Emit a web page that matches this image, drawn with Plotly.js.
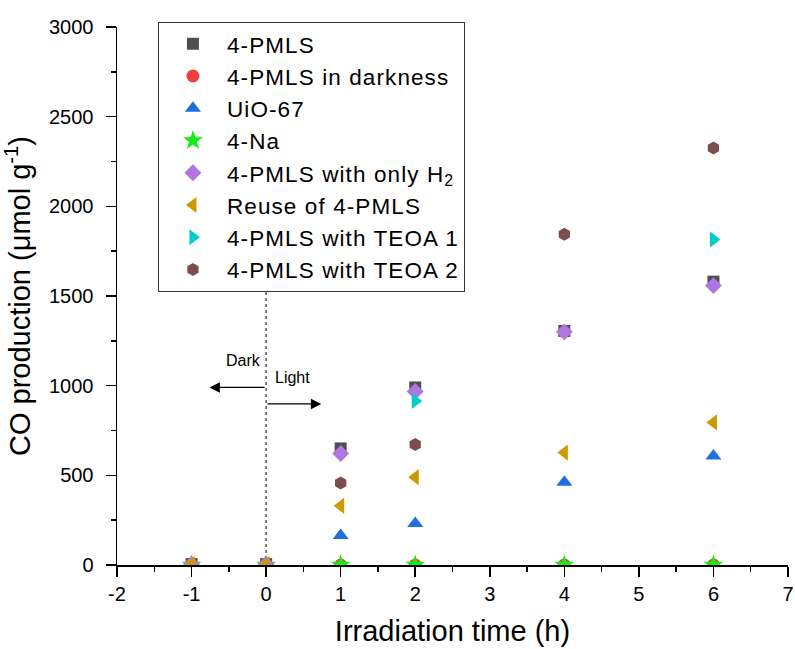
<!DOCTYPE html>
<html>
<head>
<meta charset="utf-8">
<script src="https://cdn.plot.ly/plotly-3.0.1.min.js"></script>
<style>
  html, body { margin: 0; padding: 0; background: #fff; }
  #chart { width: 795px; height: 649px; }
  .legendtext { letter-spacing: 1.1px; }
</style>
</head>
<body>
<div id="chart"></div>
<script>
// ---- data ----
const times = [-1, 0, 1, 2, 4, 6];
const pmls = [5, 5, 650, 990, 1305, 1580];
const pmlsDark = [0, 0, 0, 0, 0, 0];
const uio67 = [0, 0, 165, 232, 462, 608];
const na4 = [0, 0, 0, 0, 0, 0];
const onlyH2 = [5, 5, 622, 968, 1300, 1558];
const reuse = [5, 5, 330, 490, 627, 795];
const teoa1Times = [2, 6];
const teoa1 = [915, 1815];
const teoa2Times = [1, 2, 4, 6];
const teoa2 = [457, 672, 1845, 2325];

const seriesNames = ['4-PMLS', '4-PMLS in darkness', 'UiO-67', '4-Na',
  '4-PMLS with only H<sub>2</sub>', 'Reuse of 4-PMLS', '4-PMLS with TEOA 1', '4-PMLS with TEOA 2'];

const xTickVals = [-2, -1, 0, 1, 2, 3, 4, 5, 6, 7];
const xTickText = ['-2', '-1', '0', '1', '2', '3', '4', '5', '6', '7'];
const yTickVals = [0, 500, 1000, 1500, 2000, 2500, 3000];
const yTickText = ['0', '500', '1000', '1500', '2000', '2500', '3000'];

const FONT = 'Arial, "Liberation Sans", sans-serif';

function tr(name, x, y, symbol, color, size) {
  return {
    type: 'scatter', mode: 'markers', name: name, x: x, y: y,
    marker: { symbol: symbol, color: color, size: size, line: { width: 0 } },
    cliponaxis: true
  };
}

const data = [
  tr(seriesNames[0], times, pmls, 'square', '#4f4f4f', 12),
  tr(seriesNames[1], times, pmlsDark, 'circle', '#ef4040', 13),
  tr(seriesNames[2], times, uio67, 'triangle-up', '#1f6fdf', 14),
  tr(seriesNames[3], times, na4, 'star', '#11ee11', 15),
  tr(seriesNames[4], times, onlyH2, 'diamond', '#b075de', 13),
  tr(seriesNames[5], times, reuse, 'triangle-left', '#cc9900', 14),
  tr(seriesNames[6], teoa1Times, teoa1, 'triangle-right', '#00cccc', 14),
  tr(seriesNames[7], teoa2Times, teoa2, 'hexagon', '#7b4d4d', 13)
];

const axisCommon = {
  showline: true, linecolor: '#000', linewidth: 1.5, mirror: false,
  ticks: 'outside', ticklen: 10, tickwidth: 1.5, tickcolor: '#000',
  showgrid: false, zeroline: false,
  tickfont: { family: FONT, size: 20, color: '#000' }
};

const layout = {
  width: 795, height: 649,
  margin: { l: 117, r: 7, t: 27, b: 84 },
  paper_bgcolor: '#fff', plot_bgcolor: '#fff',
  font: { family: FONT, color: '#000' },
  showlegend: true,
  legend: {
    x: 0.061, y: 1.01, xanchor: 'left', yanchor: 'top',
    bgcolor: '#fff', bordercolor: '#333', borderwidth: 1,
    font: { family: FONT, size: 22.5, color: '#000' },
    itemwidth: 58, tracegroupgap: 0
  },
  xaxis: Object.assign({}, axisCommon, {
    range: [-2, 7], tickmode: 'array', tickvals: xTickVals, ticktext: xTickText,
    minor: { dtick: 0.5, tick0: 0, ticks: 'outside', ticklen: 5, tickwidth: 1.5, tickcolor: '#000' },
    title: { text: 'Irradiation time (h)', font: { family: FONT, size: 29, color: '#000' }, standoff: 17 }
  }),
  yaxis: Object.assign({}, axisCommon, {
    range: [0, 3000], tickmode: 'array', tickvals: yTickVals, ticktext: yTickText,
    minor: { dtick: 250, tick0: 0, ticks: 'outside', ticklen: 5, tickwidth: 1.5, tickcolor: '#000' },
    ticklabelstandoff: 8,
    title: { text: 'CO production (μmol g<sup>-1</sup>)', font: { family: FONT, size: 29, color: '#000' }, standoff: 12 }
  }),
  shapes: [{
    type: 'line', xref: 'x', yref: 'y', x0: 0, x1: 0, y0: 0, y1: 1570,
    line: { color: '#555', width: 1.5, dash: 'dot' }, layer: 'below'
  }],
  annotations: [
    { xref: 'x', yref: 'y', axref: 'x', ayref: 'y', x: -0.76, y: 990, ax: 0, ay: 990,
      text: '', showarrow: true, arrowhead: 2, arrowsize: 1.6, arrowwidth: 1.3, arrowcolor: '#000' },
    { xref: 'x', yref: 'y', axref: 'x', ayref: 'y', x: 0.74, y: 898, ax: 0, ay: 898,
      text: '', showarrow: true, arrowhead: 2, arrowsize: 1.6, arrowwidth: 1.3, arrowcolor: '#000' },
    { xref: 'x', yref: 'y', x: -0.30, y: 1143, text: 'Dark', showarrow: false,
      font: { family: FONT, size: 16, color: '#000' } },
    { xref: 'x', yref: 'y', x: 0.36, y: 1043, text: 'Light', showarrow: false,
      font: { family: FONT, size: 16, color: '#000' } }
  ]
};

Plotly.newPlot('chart', data, layout, { displayModeBar: false, staticPlot: true }).then(function (gd) {
  // Markers sitting on the x axis are cut by it, as in the reference:
  // a white band between the traces and the axis lines/ticks hides the part below the axis.
  const sub = gd.querySelector('.cartesianlayer .subplot.xy');
  if (!sub) return;
  const overplot = sub.querySelector(':scope > .overplot');
  if (!overplot) return;
  const fl = gd._fullLayout;
  const ya = fl.yaxis;
  const bottom = ya._offset + ya._length;
  const ns = 'http://www.w3.org/2000/svg';
  const band = document.createElementNS(ns, 'rect');
  band.setAttribute('x', 0);
  band.setAttribute('y', bottom);
  band.setAttribute('width', fl.width);
  band.setAttribute('height', fl.height - bottom);
  band.setAttribute('fill', '#fff');
  overplot.parentNode.insertBefore(band, overplot.nextSibling);
});
</script>
</body>
</html>
